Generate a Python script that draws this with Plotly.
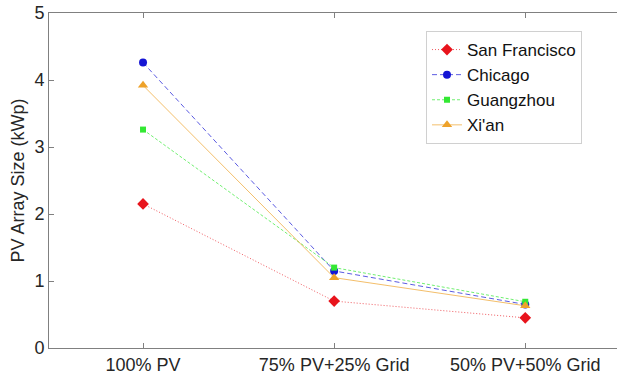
import plotly.graph_objects as go

categories = ["100% PV", "75% PV+25% Grid", "50% PV+50% Grid"]
cat_pos = [1, 2, 3]
san_francisco = [2.15, 0.70, 0.45]
chicago = [4.26, 1.15, 0.65]
guangzhou = [3.26, 1.20, 0.69]
xian = [3.92, 1.05, 0.63]

series = [
    ("San Francisco", san_francisco, "#e8141c", "1px,2px", "diamond", 9),
    ("Chicago", chicago, "#1414d4", "5px,3px", "circle", 8),
    ("Guangzhou", guangzhou, "#33e833", "3px,2px", "square", 6),
    ("Xi'an", xian, "#eea22a", "solid", "triangle-up", 9),
]

fig = go.Figure()
for name, vals, color, dash, sym, size in series:
    fig.add_trace(go.Scatter(
        x=cat_pos, y=vals, name=name, mode="lines+markers",
        line=dict(color=color, width=0.7, dash=dash),
        marker=dict(symbol=sym, size=size, color=color, line=dict(width=0)),
    ))

W_PLOT = 617 - 49
fig.update_layout(
    width=617, height=377,
    margin=dict(l=49, r=0, t=13, b=29),
    paper_bgcolor="white", plot_bgcolor="white",
    font=dict(family="Arial, Liberation Sans, sans-serif", size=18, color="#262626"),
    showlegend=True,
    legend=dict(
        x=(426 - 49) / W_PLOT, y=(348 - 31) / 335, xanchor="left", yanchor="top",
        bgcolor="white", bordercolor="#d0d0d0", borderwidth=1,
        font=dict(size=17, color="#111111"),
        tracegroupgap=0, itemwidth=30,
    ),
    annotations=[dict(
        text="PV Array Size (kWp)", textangle=-90, xref="paper", yref="paper",
        x=(17 - 49) / W_PLOT, y=0.5, xanchor="center", yanchor="middle",
        showarrow=False, font=dict(size=18, color="#262626"),
    )],
)
fig.update_xaxes(
    range=[0.508, 3.48], tickvals=cat_pos, ticktext=categories,
    showgrid=False, zeroline=False, showline=True, linecolor="#808080",
    linewidth=1, mirror="ticks", ticks="inside", ticklen=5, tickcolor="#808080",
    tickfont=dict(size=18, color="#262626"), automargin=False,
)
fig.update_yaxes(
    range=[0, 5], tickvals=[0, 1, 2, 3, 4, 5],
    showgrid=False, zeroline=False, showline=True, linecolor="#808080",
    linewidth=1, mirror=False, ticks="inside", ticklen=5, tickcolor="#808080",
    tickfont=dict(size=18, color="#262626"), automargin=False,
)

fig.write_html(
    "out.html",
    config={"displayModeBar": False},
    post_script="document.body.style.margin='0';document.body.style.overflow='hidden';",
)
